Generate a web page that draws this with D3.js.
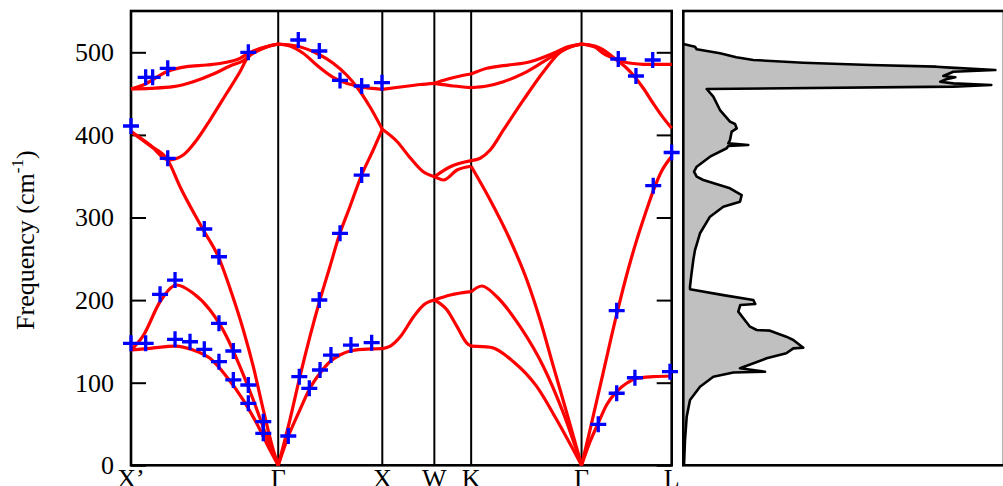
<!DOCTYPE html>
<html>
<head>
<meta charset="utf-8">
<script src="https://cdn.jsdelivr.net/npm/d3@7"></script>
<style>
html,body{margin:0;padding:0;background:#fff;}
svg{display:block;}
</style>
</head>
<body>
<svg id="chart" width="1003" height="486"></svg>
<script>
// ---------- DATA ----------
const symLabels = ["X\u2019", "\u0393", "X", "W", "K", "\u0393", "L"];
const symK = [0, 1.4142, 2.4142, 2.9142, 3.2678, 4.3284, 5.1944];
const yTicks = [0, 100, 200, 300, 400, 500];

// Calculated dispersion, [k, frequency cm^-1], per path segment
const bandsXpG = [
  [[0,455.6],[0.118,460.4],[0.343,476.5],[0.535,482.6],[0.727,484.6],[0.919,487.9],[1.047,492.7],[1.127,498.8],[1.304,506.8],[1.4142,510]],
  [[0,455.6],[0.183,456.4],[0.406,458.4],[0.598,464.4],[0.791,473.7],[0.951,483.4],[1.079,490],[1.175,499],[1.304,506.5],[1.4142,510]],
  [[0,404],[0.183,387.8],[0.358,369.6],[0.502,375.7],[0.631,393.8],[0.759,418],[0.919,450.4],[1.047,476.5],[1.127,494.7],[1.304,506.8],[1.4142,510]],
  [[0,404],[0.183,387],[0.353,369.6],[0.471,337.3],[0.695,284.9],[0.839,252.5],[0.967,208.2],[1.079,163.8],[1.175,119.4],[1.271,67],[1.367,18.5],[1.4142,0]],
  [[0,139.6],[0.118,157],[0.279,198],[0.439,218.3],[0.598,208.2],[0.759,188],[0.919,155.7],[1.047,119.4],[1.175,79],[1.304,34.6],[1.4142,0]],
  [[0,139.6],[0.183,141.6],[0.423,144.4],[0.598,139.6],[0.759,129.5],[0.919,107.3],[1.079,79],[1.207,50.8],[1.335,18.5],[1.4142,0]]
];
const bandsGX = [
  [[1.4142,510],[1.5266,507.6],[1.6544,498.8],[1.7831,484.6],[1.9425,469.7],[2.0713,462.4],[2.199,458.4],[2.4142,455.2]],
  [[1.4142,510],[1.591,507.6],[1.7831,498.8],[1.9425,486.7],[2.0713,472.5],[2.1673,458.4],[2.2951,434.1],[2.4142,406.8]],
  [[1.4142,0],[1.5266,55],[1.6227,107.3],[1.7187,155.7],[1.8148,200.1],[1.9108,240.4],[2.0069,280.9],[2.103,313],[2.2153,351.4],[2.3268,381.7],[2.4142,406.8]],
  [[1.4142,0],[1.5103,34.6],[1.6227,67],[1.7187,93.2],[1.8148,111.4],[1.9108,125.4],[2.0069,133.5],[2.103,138.4],[2.2307,140.4],[2.4142,141.2]]
];
const bandsXW = [
  [[2.4142,455.2],[2.5871,458],[2.7792,461],[2.9142,462.4]],
  [[2.4142,406.8],[2.5554,392],[2.6832,372],[2.8109,355],[2.9142,349.4]],
  [[2.4142,141.2],[2.491,144.4],[2.5871,155.7],[2.7149,179.9],[2.8109,194.1],[2.9142,200.1]]
];
const bandsWK = [
  [[2.9142,462.4],[3.0362,467.3],[3.164,471.3],[3.2678,473.7]],
  [[2.9142,462.4],[3.0996,459.2],[3.2678,457.2]],
  [[2.9142,349.4],[3.0035,345.4],[3.1323,357.5],[3.2678,362]],
  [[2.9142,349.4],[3.0679,361.5],[3.2678,368.8]],
  [[2.9142,200.1],[3.0679,206.2],[3.2678,210.2]],
  [[2.9142,200.1],[3.0362,188],[3.1323,167.8],[3.2283,147.7],[3.2678,144.4]]
];
const bandsKG = [
  [[3.2678,473.7],[3.4186,480.6],[3.5781,483.8],[3.8346,488.6],[4.0584,498.8],[4.1871,506.4],[4.3284,510]],
  [[3.2678,457.2],[3.4186,459.2],[3.5781,464.4],[3.7702,474.5],[3.9623,488.6],[4.1228,500.7],[4.2188,506.4],[4.3284,510]],
  [[3.2678,368.8],[3.3543,371.7],[3.4503,381.7],[3.5781,406],[3.7702,442.3],[3.9623,476.5],[4.1228,500],[4.3284,510]],
  [[3.2678,362],[3.4503,321.2],[3.6424,272.8],[3.8029,224.3],[3.9306,175.9],[4.0584,119.4],[4.1871,63],[4.3284,0]],
  [[3.2678,210.2],[3.3706,217.1],[3.5147,204.1],[3.7385,167.8],[3.9623,119.4],[4.1544,63],[4.3284,0]],
  [[3.2678,144.4],[3.4503,142.9],[3.6741,125.4],[3.8989,95.2],[4.091,54.8],[4.3284,0]]
];
const bandsGL = [
  [[4.3284,510],[4.4562,506.4],[4.5359,498.8],[4.6319,493.1],[4.728,488.6],[4.8241,486.4],[4.9201,485.5],[5.1944,485.5]],
  [[4.3284,510],[4.4562,507.6],[4.5686,500.4],[4.6646,490.7],[4.7607,481],[4.8241,472.5],[4.9201,456.8],[5.0162,438.3],[5.0998,423],[5.1944,408]],
  [[4.3284,0],[4.4081,42],[4.5359,112],[4.6646,182],[4.776,237],[4.8567,272],[4.9365,303],[5.0162,332],[5.0969,356],[5.1944,374]],
  [[4.3284,0],[4.4081,28],[4.4879,50.8],[4.5686,73],[4.6646,89.1],[4.7607,99.3],[4.8567,105.3],[5.0162,107.3],[5.1944,108.1]]
];

// Experimental points
const expK = [0,0.141,0.208,0.353,1.127,0.353,0.704,0.845,
  0,0.141,0.279,0.423,0.423,0.567,0.704,0.845,0.845,0.983,0.983,1.127,1.127,1.271,1.271,
  1.607,1.809,2.008,2.216,2.411,2.216,2.008,1.809,1.617,1.713,1.816,1.921,2.113,2.312,1.511,
  4.681,4.851,5.012,5.194,5.017,4.666,4.489,4.666,4.841,5.178];
const expF = [410.8,469.7,469.7,480.6,500,371.7,286.1,252.5,
  147.7,147.7,207,224.3,152.5,149.6,140.4,171.9,125.4,138.4,103.3,97.2,75,52.8,38.7,
  514.9,501.6,466,459.2,463.2,351.4,280.9,200.1,107.3,93.2,115.4,133.5,145.6,148.4,35.5,
  491.9,471.3,490.7,378.7,338.5,187.2,49.6,87.2,106,113.3];

// Density of states (arbitrary units) vs frequency
const dosFreq = [510,506.8,503.6,498.8,494,490.7,487.4,484.6,482.6,481.4,478.5,476.5,471.3,469.7,467.3,464.4,462.4,460.4,458.4,455.6,
  446.3,430.1,416,413.2,408,404,393.8,389.8,387.8,386.5,383.8,373.6,361.5,355.4,349.4,345.4,335.3,327.2,319.1,313.1,301,280.9,260.6,248.5,230,216.2,213.1,
  206,200.1,195.3,194.1,186,175,167.8,163.8,163,155.7,151.7,142.4,141.6,135.6,129.5,117.4,113.3,112.3,107.3,95.2,79,58.8,30.6,0];
const dosVal = [0,1.17,1.34,3.67,5.3,7.0,12.0,18.7,25.3,26.7,31.2,27.0,26.0,27.2,26.3,25.7,27.0,30.8,27.0,2.34,
  3.0,3.67,4.67,5.17,5.34,4.84,4.67,4.5,6.5,4.5,4.34,2.67,1.34,1.07,1.34,2.0,4.67,5.84,5.67,4.0,2.67,1.67,1.17,1.0,0.8,0.67,0.67,
  4.0,7.0,7.2,5.7,5.5,6.2,6.67,7.34,8.67,10.3,11.0,12.0,11.0,10.3,8.34,5.67,8.17,5.0,3.0,1.67,0.67,0.34,0.17,0.07];

// ---------- DRAW ----------
const svg = d3.select("#chart");
const FONT = "'Liberation Serif','Times New Roman',Times,serif";
const plotL = 131, plotR = 671.7, plotT = 11, plotB = 465.3;
const dosL = 683.3, dosR = 1004;

const x = d3.scaleLinear().domain([0, 5.1944]).range([plotL, plotR]);
const y = d3.scaleLinear().domain([0, 550]).range([plotB, plotT]);
const xd = d3.scaleLinear().domain([0, 32]).range([dosL, dosL + 320]);

// vertical symmetry lines
svg.append("g").selectAll("line").data(symK.slice(1, -1)).join("line")
  .attr("x1", d => x(d)).attr("x2", d => x(d))
  .attr("y1", plotT).attr("y2", plotB)
  .attr("stroke", "#000").attr("stroke-width", 2);

// left axis (labels + inward ticks)
const axL = svg.append("g").attr("transform", `translate(${plotL},0)`)
  .call(d3.axisLeft(y).tickValues(yTicks).tickSize(-15).tickPadding(17).tickFormat(d3.format("d")));
axL.select(".domain").remove();
axL.selectAll("line").attr("stroke", "#000").attr("stroke-width", 2);
axL.selectAll("text").attr("font-family", FONT).attr("font-size", 26).attr("fill", "#000");

const axR = svg.append("g").attr("transform", `translate(${plotR},0)`)
  .call(d3.axisRight(y).tickValues(yTicks).tickSize(-15).tickFormat(""));
axR.select(".domain").remove();
axR.selectAll("line").attr("stroke", "#000").attr("stroke-width", 2);

// y title
const yt = svg.append("text")
  .attr("transform", `translate(34,${(plotT + plotB) / 2 + 2}) rotate(-90)`)
  .attr("text-anchor", "middle")
  .attr("font-family", FONT).attr("font-size", 26).attr("fill", "#000");
yt.append("tspan").text("Frequency (cm");
yt.append("tspan").text("-1").attr("font-size", 17).attr("dy", -11);
yt.append("tspan").text(")").attr("dy", 11);

// x symmetry labels
svg.append("g").selectAll("text").data(symLabels).join("text")
  .attr("x", (d, i) => x(symK[i])).attr("y", 487)
  .attr("text-anchor", "middle")
  .attr("font-family", FONT).attr("font-size", 26).attr("fill", "#000")
  .text(d => d);

// DOS
const dosData = dosFreq.map((f, i) => ({ f: f, v: dosVal[i] }));
svg.append("path").datum(dosData)
  .attr("d", d3.area().y(d => y(d.f)).x0(xd(0)).x1(d => xd(d.v)).curve(d3.curveLinear))
  .attr("fill", "#c0c0c0").attr("stroke", "none");
svg.append("path").datum(dosData)
  .attr("d", d3.line().y(d => y(d.f)).x(d => xd(d.v)).curve(d3.curveLinear))
  .attr("fill", "none").attr("stroke", "#000").attr("stroke-width", 2.6).attr("stroke-linejoin", "round");

// frames
svg.append("rect").attr("x", plotL).attr("y", plotT).attr("width", plotR - plotL).attr("height", plotB - plotT)
  .attr("fill", "none").attr("stroke", "#000").attr("stroke-width", 2.6);
svg.append("rect").attr("x", dosL).attr("y", plotT).attr("width", dosR - dosL).attr("height", plotB - plotT)
  .attr("fill", "none").attr("stroke", "#000").attr("stroke-width", 2.6);

// bands
const line = d3.line().x(d => x(d[0])).y(d => y(d[1])).curve(d3.curveMonotoneX);
const allBands = [].concat(bandsXpG, bandsGX, bandsXW, bandsWK, bandsKG, bandsGL);
svg.append("g").selectAll("path").data(allBands).join("path")
  .attr("d", line).attr("fill", "none").attr("stroke", "#ff0000")
  .attr("stroke-width", 3.2).attr("stroke-linejoin", "round");

// experimental plus markers
svg.append("g").selectAll("path").data(expK.map((k, i) => [k, expF[i]])).join("path")
  .attr("transform", d => `translate(${x(d[0])},${y(d[1])})`)
  .attr("d", "M-8,0H8M0,-8V8")
  .attr("stroke", "#0000ff").attr("stroke-width", 3.3).attr("fill", "none");
</script>
</body>
</html>
